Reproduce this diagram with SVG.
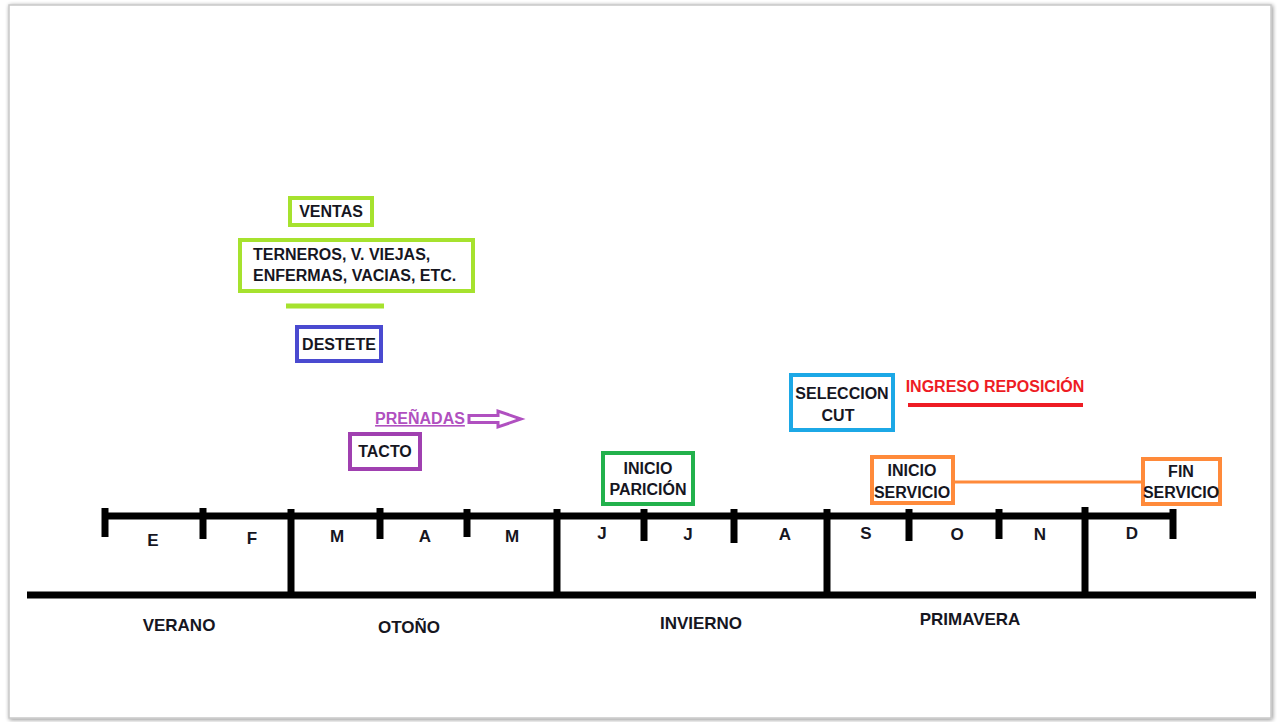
<svg xmlns="http://www.w3.org/2000/svg" width="1277" height="722" viewBox="0 0 1277 722">
  <style>
    .lbl { font-family: "Liberation Sans", Arial, sans-serif; font-weight: bold; fill: #16161f; text-anchor: middle; }
    .left { text-anchor: start; }
    .box { fill: #ffffff; stroke-width: 4; }
    .bar { stroke: #000000; stroke-width: 7; fill: none; }
    .tick { stroke: #000000; stroke-width: 7; }
    .month { font-size: 17px; }
    .season { font-size: 17px; }
    .node { font-size: 16px; }
  </style>
  <defs>
    <filter id="pageShadow" x="-2%" y="-2%" width="104%" height="104%">
      <feGaussianBlur in="SourceAlpha" stdDeviation="2"/>
      <feOffset dx="1" dy="1"/>
      <feComponentTransfer><feFuncA type="linear" slope="0.45"/></feComponentTransfer>
      <feMerge><feMergeNode/><feMergeNode in="SourceGraphic"/></feMerge>
    </filter>
  </defs>

  <!-- page -->
  <rect x="0" y="0" width="1277" height="722" fill="#ffffff"/>
  <rect x="9" y="5" width="1262" height="713" fill="#ffffff" stroke="#c8c8c8" stroke-width="1.5" filter="url(#pageShadow)"/>

  <!-- calendar axis -->
  <g id="timeline">
    <line class="bar" x1="27" y1="595" x2="1256" y2="595"/>
    <line class="bar" x1="102" y1="516" x2="1176" y2="516"/>
    <!-- month ticks -->
    <line class="tick" x1="105" y1="508" x2="105" y2="537"/>
    <line class="tick" x1="203" y1="508" x2="203" y2="539"/>
    <line class="tick" x1="380" y1="508" x2="380" y2="539"/>
    <line class="tick" x1="467" y1="509" x2="467" y2="537"/>
    <line class="tick" x1="644" y1="509" x2="644" y2="541"/>
    <line class="tick" x1="734" y1="509" x2="734" y2="543"/>
    <line class="tick" x1="909" y1="509" x2="909" y2="541"/>
    <line class="tick" x1="999" y1="509" x2="999" y2="539"/>
    <line class="tick" x1="1173" y1="509" x2="1173" y2="539"/>
    <!-- season dividers -->
    <line class="tick" x1="291" y1="509" x2="291" y2="595"/>
    <line class="tick" x1="557" y1="509" x2="557" y2="595"/>
    <line class="tick" x1="827" y1="509" x2="827" y2="595"/>
    <line class="tick" x1="1085" y1="507" x2="1085" y2="595"/>
  </g>

  <g id="months" class="lbl month">
    <text x="153" y="546">E</text>
    <text x="252" y="544">F</text>
    <text x="337" y="542">M</text>
    <text x="425" y="542">A</text>
    <text x="512" y="542">M</text>
    <text x="602" y="539">J</text>
    <text x="688" y="540">J</text>
    <text x="785" y="540">A</text>
    <text x="866" y="539">S</text>
    <text x="957" y="540">O</text>
    <text x="1040" y="540">N</text>
    <text x="1132" y="539">D</text>
  </g>

  <g id="seasons" class="lbl season">
    <text x="179" y="631">VERANO</text>
    <text x="409" y="633">OTOÑO</text>
    <text x="701" y="629">INVIERNO</text>
    <text x="970" y="625">PRIMAVERA</text>
  </g>

  <g id="connectors">
    <line x1="286" y1="306" x2="384" y2="306" stroke="#a6e22e" stroke-width="5"/>
    <line x1="908" y1="405" x2="1083" y2="405" stroke="#ee1c24" stroke-width="4"/>
    <line x1="953" y1="482" x2="1143" y2="482" stroke="#ff8a3a" stroke-width="3"/>
    <!-- hollow arrow next to PREÑADAS -->
    <path d="M469,415.5 H498 V411 L521,419 L498,427 V422.5 H469 Z" fill="#ffffff" stroke="#b050c0" stroke-width="3" stroke-linejoin="miter"/>
  </g>

  <g id="ventas">
    <rect class="box" x="290" y="198" width="82" height="27" stroke="#a6e22e"/>
    <text class="lbl node" x="331" y="217">VENTAS</text>
  </g>

  <g id="terneros">
    <rect class="box" x="240" y="240" width="233" height="51" stroke="#a6e22e"/>
    <text class="lbl node left" x="253" y="260">TERNEROS, V. VIEJAS,</text>
    <text class="lbl node left" x="253" y="281">ENFERMAS, VACIAS, ETC.</text>
  </g>

  <g id="destete">
    <rect class="box" x="297" y="327" width="84" height="34" stroke="#4a4ad0"/>
    <text class="lbl node" x="339" y="350">DESTETE</text>
  </g>

  <g id="prenadas">
    <text class="lbl node" x="420" y="424" style="fill:#b050c0" text-decoration="underline">PREÑADAS</text>
  </g>

  <g id="tacto">
    <rect class="box" x="350" y="434" width="70" height="35" stroke="#a040b0"/>
    <text class="lbl node" x="385" y="457">TACTO</text>
  </g>

  <g id="inicio-paricion">
    <rect class="box" x="603" y="453" width="90" height="51" stroke="#22b14c"/>
    <text class="lbl node" x="648" y="474">INICIO</text>
    <text class="lbl node" x="648" y="495">PARICIÓN</text>
  </g>

  <g id="seleccion-cut">
    <rect class="box" x="791" y="375" width="102" height="55" stroke="#1ca8e6"/>
    <text class="lbl node" x="842" y="399">SELECCION</text>
    <text class="lbl node" x="838" y="421">CUT</text>
  </g>

  <g id="ingreso-reposicion">
    <text class="lbl node" x="995" y="392" style="fill:#ee1c24">INGRESO REPOSICIÓN</text>
  </g>

  <g id="inicio-servicio">
    <rect class="box" x="872" y="457" width="81" height="46" stroke="#ff8a3a"/>
    <text class="lbl node" x="912" y="476">INICIO</text>
    <text class="lbl node" x="912" y="498">SERVICIO</text>
  </g>

  <g id="fin-servicio">
    <rect class="box" x="1143" y="459" width="77" height="45" stroke="#ff8a3a"/>
    <text class="lbl node" x="1181" y="477">FIN</text>
    <text class="lbl node" x="1181" y="498">SERVICIO</text>
  </g>
</svg>
